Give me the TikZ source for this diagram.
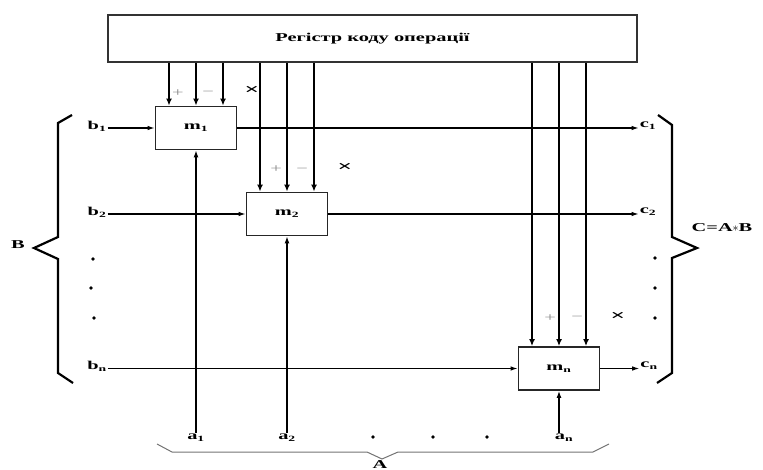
\documentclass[tikz,border=0pt]{standalone}
\usepackage{fontspec}
\setmainfont[FakeStretch=1.7]{Liberation Serif}
\usetikzlibrary{arrows.meta,calc}

\begin{document}
\begin{tikzpicture}[
    x=1pt, y=-1pt,
    block/.style={draw=black!85, line width=1.8pt, minimum width=81pt, minimum height=43pt, inner sep=0pt, font=\fontsize{12}{14}\selectfont\bfseries},
    regbox/.style={draw=black!80, line width=1.8pt, minimum width=529pt, minimum height=47pt, inner sep=0pt, font=\fontsize{12}{14}\selectfont\bfseries},
    lbl/.style={inner sep=1pt, font=\fontsize{12}{14}\selectfont\bfseries},
    sign/.style={inner sep=0pt, text=black!45, font=\fontsize{12}{14}\selectfont},
    times/.style={inner sep=0pt, font=\fontsize{15}{16}\selectfont\bfseries},
    bus/.style={line width=2.2pt, -{Latex[length=7pt,width=6pt]}},
    wire/.style={line width=1.1pt, -{Latex[length=7pt,width=4.5pt]}},
    feed/.style={line width=1.8pt, -{Latex[length=7pt,width=5pt]}},
    dot/.style={circle, fill=black, inner sep=0pt, minimum size=3.6pt},
    brace/.style={line width=2.2pt},
    thinbrace/.style={black!55, line width=1pt}
]
\useasboundingbox (0,0) rectangle (763,470);
\node[regbox] (reg) at (372.5,38.5) {Регістр коду операції};
\node[block] (m1) at (196,128) {m\textsubscript{1}};
\node[block] (m2) at (287,214) {m\textsubscript{2}};
\node[block] (mn) at (559,368.5) {m\textsubscript{n}};
\node[lbl] (b1) at (97,126) {b\textsubscript{1}};
\node[lbl] (b2) at (97,212) {b\textsubscript{2}};
\node[lbl] (bn) at (97,366) {b\textsubscript{n}};
\node[lbl] (c1) at (648,126) {c\textsubscript{1}};
\node[lbl] (c2) at (648,212) {c\textsubscript{2}};
\node[lbl] (cn) at (649,366) {c\textsubscript{n}};
\node[lbl] (a1) at (196,438) {a\textsubscript{1}};
\node[lbl] (a2) at (287,438) {a\textsubscript{2}};
\node[lbl] (an) at (564,438) {a\textsubscript{n}};
\foreach \m in {m1,m2,mn}
  \foreach \d in {-27,0,27}
    \draw[bus] ([xshift=\d pt]\m.north |- reg.south) -- ([xshift=\d pt]\m.north);
\foreach \b/\m/\c in {b1/m1/c1,b2/m2/c2,bn/mn/cn}{
  \draw[wire] (\b.east |- \m.west) -- (\m.west);
  \draw[wire] (\m.east) -- (\m.east -| \c.west);
}
\foreach \a/\m in {a1/m1,a2/m2,an/mn}
  \draw[feed] (\m.south |- \a.north) -- (\m.south);
\node[sign] (p1) at (178,93) {+};
\node[sign] (s1) at (208,93) {−};
\node[times] (x1) at (252,90) {×};
\node[sign] (p2) at (276,169) {+};
\node[sign] (s2) at (302,170) {−};
\node[times] (x2) at (345,167) {×};
\node[sign] (pn) at (550,318) {+};
\node[sign] (sn) at (577,318) {−};
\node[times] (xn) at (618,316) {×};
\foreach \x/\y in {93/259,91/288,94/318,655/258,655/288,655/318,373/437,433/437,487/437}
  \node[dot] at (\x,\y) {};
\draw[brace] (72,115) -- (58,123) -- (58,237) -- (34,248) -- (58,259) -- (58,373) -- (73,383);
\node[lbl] (B) at (18,245) {B};
\draw[brace] (658,115) -- (672,125) -- (672,237) -- (697,248) -- (672,258) -- (672,373) -- (657,383);
\node[lbl] (C) at (722,228) {C=A$\ast$B};
\draw[thinbrace] (157,444) -- (172,452) -- (367,452) -- (382,459) -- (398,452) -- (593,452) -- (609,444);
\node[lbl, anchor=south] (A) at (380,470) {A};
\end{tikzpicture}
\end{document}
